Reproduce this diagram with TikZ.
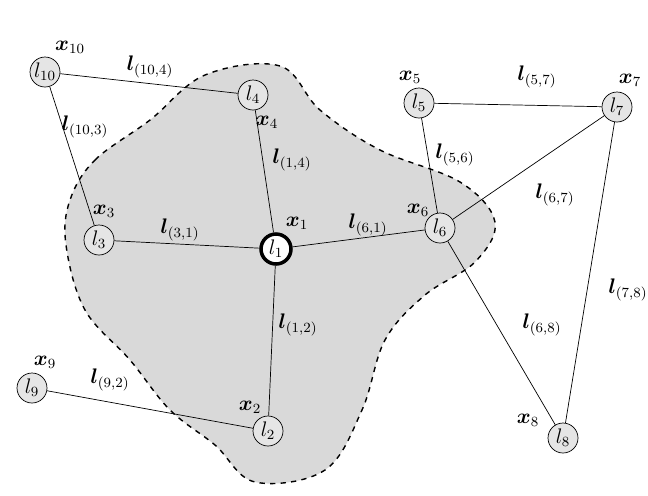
\documentclass[tikz,border=0pt]{standalone}
\usepackage{amsmath}
\usepackage{bm}
\usetikzlibrary{positioning}
\begin{document}
\begin{tikzpicture}[x=0.02cm, y=-0.02cm,
    land/.style={circle, draw, fill=gray!20, minimum size=0.6cm, inner sep=0pt, font=\large},
    lab/.style={font=\large, inner sep=1pt}
]
    \useasboundingbox (0,0) rectangle (648,495);
    % Shaded region
    \draw[dashed, thick, fill=gray!30] plot[smooth cycle, tension=0.6] coordinates {
        (70,200) (95,160) (150,120) (205,75) (280,66) (320,110) (380,150)
        (460,182) (495,222) (475,262) (425,295) (385,340) (362,410)
        (325,470) (255,482) (215,445) (170,410) (130,360) (85,310) (66,245)};

    % Landmarks
    \node[land] (l10) at (45,72) {$l_{10}$};
    \node[land] (l4) at (253,95) {$l_4$};
    \node[land] (l5) at (419,103) {$l_5$};
    \node[land] (l7) at (617,107) {$l_7$};
    \node[land] (l3) at (99,240) {$l_3$};
    \node[land, line width=2pt, fill=white] (l1) at (276,249) {$l_1$};
    \node[land] (l6) at (440,228) {$l_6$};
    \node[land] (l9) at (32,388) {$l_9$};
    \node[land] (l2) at (268,431) {$l_2$};
    \node[land] (l8) at (563,438) {$l_8$};

    % Poses
    \node[lab] (x10) at (70,47) {$\bm{x}_{10}$};
    \node[lab] (x4) at (267,122) {$\bm{x}_4$};
    \node[lab] (x5) at (410,77) {$\bm{x}_5$};
    \node[lab] (x7) at (630,80) {$\bm{x}_7$};
    \node[lab] (x3) at (104,211) {$\bm{x}_3$};
    \node[lab] (x1) at (297,223) {$\bm{x}_1$};
    \node[lab] (x6) at (418,210) {$\bm{x}_6$};
    \node[lab] (x9) at (45,362) {$\bm{x}_9$};
    \node[lab] (x2) at (250,407) {$\bm{x}_2$};
    \node[lab] (x8) at (528,420) {$\bm{x}_8$};

    % Links
    \draw (l10) -- (l4);
    \draw (l10) -- (l3);
    \draw (l4) -- (l1);
    \draw (l3) -- (l1);
    \draw (l1) -- (l6);
    \draw (l1) -- (l2);
    \draw (l9) -- (l2);
    \draw (l5) -- (l7);
    \draw (l5) -- (l6);
    \draw (l7) -- (l6);
    \draw (l7) -- (l8);
    \draw (l6) -- (l8);

    % Link labels
    \node[lab] (e104) at (150,67) {$\bm{l}_{(10,4)}$};
    \node[lab] (e103) at (85,127) {$\bm{l}_{(10,3)}$};
    \node[lab] (e14) at (292,160) {$\bm{l}_{(1,4)}$};
    \node[lab] (e31) at (180,230) {$\bm{l}_{(3,1)}$};
    \node[lab] (e61) at (368,225) {$\bm{l}_{(6,1)}$};
    \node[lab] (e12) at (298,325) {$\bm{l}_{(1,2)}$};
    \node[lab] (e92) at (110,380) {$\bm{l}_{(9,2)}$};
    \node[lab] (e57) at (537,77) {$\bm{l}_{(5,7)}$};
    \node[lab] (e56) at (455,155) {$\bm{l}_{(5,6)}$};
    \node[lab] (e67) at (555,195) {$\bm{l}_{(6,7)}$};
    \node[lab] (e78) at (628,290) {$\bm{l}_{(7,8)}$};
    \node[lab] (e68) at (542,325) {$\bm{l}_{(6,8)}$};
\end{tikzpicture}
\end{document}
